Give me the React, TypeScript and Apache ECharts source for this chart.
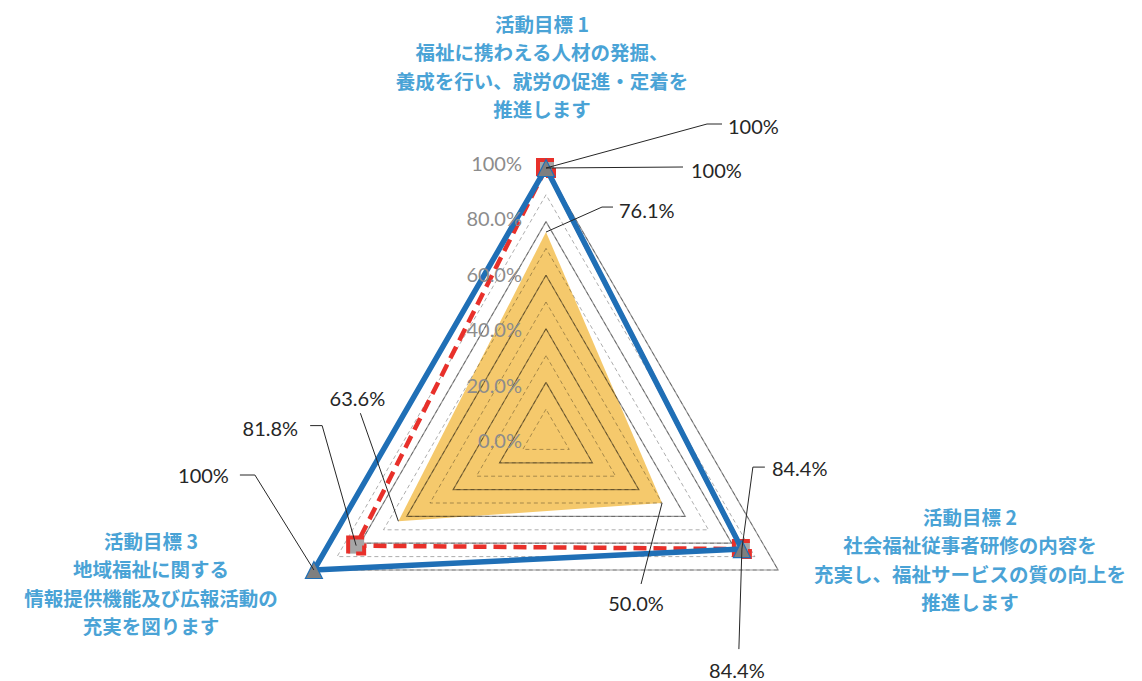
import React, { useEffect, useRef } from 'react';
import * as echarts from 'echarts';

// ---------- data ----------
const categories = [
  '活動目標 1\n福祉に携わえる人材の発掘、\n養成を行い、就労の促進・定着を\n推進します',
  '活動目標 2\n社会福祉従事者研修の内容を\n充実し、福祉サービスの質の向上を\n推進します',
  '活動目標 3\n地域福祉に関する\n情報提供機能及び広報活動の\n充実を図ります',
];
const seriesNames = ['実績', '目標', '計画'];
const actualValues = [76.1, 50.0, 63.6];
const targetValues = [100, 84.4, 81.8];
const planValues = [100, 84.4, 100];
const tickValues = [0, 20, 40, 60, 80, 100];
const tickLabels = ['0.0%', '20.0%', '40.0%', '60.0%', '80.0%', '100%'];

// ---------- layout ----------
const CX = 546;
const CY = 436;
const R = 268;
const AXIS_ANGLES = [90, -30, 210]; // per category (Excel clockwise order)
const ORDER = [0, 2, 1]; // ECharts places indicators counter-clockwise

const NUM_FONT = 'Lato, "Liberation Sans", sans-serif';
const CJK_FONT = '"Noto Sans CJK JP", sans-serif';

// label leader layout: [series][category] -> elbow offset, horizontal run, text offset, align
type LL = { dx: number; dy: number; h: number; tx: number; ty: number; align: string };
const labelLayout: LL[][] = [
  [
    { dx: 56, dy: -25, h: 11, tx: 6, ty: 3, align: 'left' },
    { dx: -21, dy: 81, h: 0, tx: -5, ty: 19, align: 'center' },
    { dx: -38, dy: -108, h: 0, tx: -3, ty: -15, align: 'center' },
  ],
  [
    { dx: 137, dy: -1, h: 0, tx: 8, ty: 3, align: 'left' },
    { dx: -3, dy: 100, h: 0, tx: -2, ty: 21, align: 'center' },
    { dx: -34, dy: -120, h: -12, tx: -12, ty: 2, align: 'right' },
  ],
  [
    { dx: 161, dy: -44, h: 15, tx: 6, ty: 2, align: 'left' },
    { dx: 11, dy: -82, h: 12, tx: 7, ty: 1, align: 'left' },
    { dx: -59, dy: -95, h: -15, tx: -11, ty: 0, align: 'right' },
  ],
];

const namePos = [
  { x: 542, y: 9 },
  { x: 970, y: 502 },
  { x: 151, y: 526 },
];

function fmt(v: number) {
  return v === 100 ? '100%' : v.toFixed(1) + '%';
}

function anchor(cat: number, v: number): [number, number] {
  const a = (AXIS_ANGLES[cat] * Math.PI) / 180;
  const r = (R * v) / 100;
  return [CX + r * Math.cos(a), CY - r * Math.sin(a)];
}

export default function App() {
  const ref = useRef<HTMLDivElement>(null);

  useEffect(() => {
    document.body.style.margin = '0';
    if (!ref.current) return;
    const chart = echarts.init(ref.current, null, { renderer: 'svg' });

    const indicator = ORDER.map((i) => ({ name: categories[i], min: 0, max: 100 }));
    const baseRadar = {
      indicator,
      center: [CX, CY],
      radius: R,
      startAngle: 90,
      shape: 'polygon',
      z: 1,
      axisName: { show: false },
      axisLine: { show: false },
      axisTick: { show: false },
      axisLabel: { show: false },
      splitArea: { show: false },
    };

    const allValues = [actualValues, targetValues, planValues];
    const graphics: any[] = [];

    // axis tick labels
    tickValues.forEach((v, k) => {
      graphics.push({
        type: 'text',
        x: 522,
        y: CY + 4 - (v / 100) * (R + 9),
        style: {
          text: tickLabels[k],
          fill: '#8c8c8c',
          font: `20px ${NUM_FONT}`,
          align: 'right',
          verticalAlign: 'middle',
        },
        z: 10,
      });
    });

    // indicator names
    categories.forEach((c, i) => {
      graphics.push({
        type: 'text',
        x: namePos[i].x,
        y: namePos[i].y,
        style: {
          text: c,
          fill: '#4aa3d6',
          fontSize: 19.5,
          fontFamily: CJK_FONT,
          fontWeight: 'bold',
          lineHeight: 28.5,
          align: 'center',
          verticalAlign: 'top',
        },
      });
    });

    // data labels with leader lines
    allValues.forEach((vals, s) => {
      vals.forEach((v, c) => {
        const L = labelLayout[s][c];
        const [ax, ay] = anchor(c, v);
        const ex = ax + L.dx;
        const ey = ay + L.dy;
        const pts = [
          [ax, ay],
          [ex, ey],
        ];
        if (L.h !== 0) pts.push([ex + L.h, ey]);
        const end = pts[pts.length - 1];
        graphics.push({
          type: 'polyline',
          shape: { points: pts },
          style: { stroke: '#262626', lineWidth: 1, fill: null },
          z: 20,
        });
        graphics.push({
          type: 'text',
          x: end[0] + L.tx,
          y: end[1] + L.ty,
          style: {
            text: fmt(v),
            fill: '#262626',
            font: `20px ${NUM_FONT}`,
            align: L.align,
            verticalAlign: 'middle',
          },
          z: 20,
        });
      });
    });

    chart.setOption({
      animation: false,
      radar: [
        {
          ...baseRadar,
          splitNumber: 10,
          splitLine: { lineStyle: { color: 'rgba(0,0,0,0.32)', width: 1, type: [4, 3] } },
        },
        {
          ...baseRadar,
          splitNumber: 5,
          splitLine: { lineStyle: { color: 'rgba(0,0,0,0.4)', width: 1.2 } },
        },
      ],
      series: [
        {
          type: 'radar',
          radarIndex: 1,
          z: 0,
          symbol: 'none',
          lineStyle: { width: 0 },
          areaStyle: { color: '#f5c96c', opacity: 1 },
          itemStyle: { color: '#f5c96c' },
          data: [{ name: seriesNames[0], value: ORDER.map((i) => actualValues[i]) }],
        },
        {
          type: 'radar',
          radarIndex: 1,
          z: 3,
          symbol: 'rect',
          symbolSize: 16,
          itemStyle: { color: '#a6a6a6', borderColor: '#e8302a', borderWidth: 4, borderType: 'dashed' },
          lineStyle: { color: '#e8302a', width: 4.5, type: [13, 7] },
          data: [{ name: seriesNames[1], value: ORDER.map((i) => targetValues[i]) }],
        },
        {
          type: 'radar',
          radarIndex: 1,
          z: 4,
          symbol: 'triangle',
          symbolSize: 17,
          itemStyle: { color: '#7f7f7f', borderColor: '#1f6fb6', borderWidth: 1.2 },
          lineStyle: { color: '#1f6fb6', width: 5.5 },
          data: [{ name: seriesNames[2], value: ORDER.map((i) => planValues[i]) }],
        },
      ],
      graphic: graphics,
    });

    return () => chart.dispose();
  }, []);

  return (
    <div
      ref={ref}
      style={{ position: 'absolute', left: 0, top: 0, width: 1142, height: 681, background: '#fff' }}
    />
  );
}
